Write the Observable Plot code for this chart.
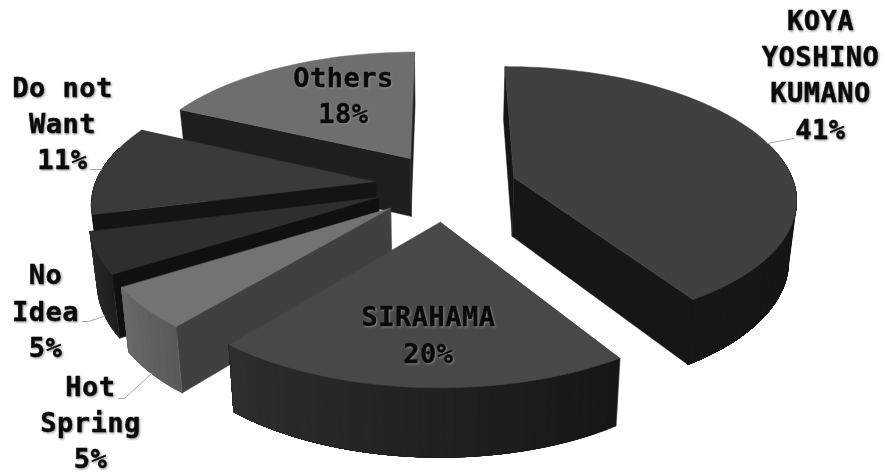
<!DOCTYPE html>
<html>
<head>
<meta charset="utf-8">
<script src="https://cdn.jsdelivr.net/npm/d3@7"></script>
<script src="https://cdn.jsdelivr.net/npm/@observablehq/plot@0.6"></script>
<style>
  html, body { margin: 0; padding: 0; background: #fff; }
  svg text { letter-spacing: 0.5px; }
</style>
</head>
<body>
<div id="chart"></div>
<script>
// Survey shares, clockwise from twelve o'clock
const names = ["KOYA\nYOSHINO\nKUMANO", "SIRAHAMA", "Hot\nSpring", "No\nIdea", "Do not\nWant", "Others"];
const shares = [41, 20, 5, 5, 11, 18];

// How far each slice is pulled out of the pie, in radii on the ground plane
const pullAcross = [0.253, -0.0103, -0.1846, -0.229, -0.244, -0.122];
const pullAway = [0.123, -0.214, -0.112, -0.03, 0.09, 0.276];

// Slice colours
const topColors = ["#404040", "#484848", "#737373", "#2e2e2e", "#3a3a3a", "#6e6e6e"];
const wallColors = ["#161616", "#404040", "#404040", "#101010", "#141414", "#1e1e1e"];
const rimFrom = ["#161616", "#161616", "#5a5a5a", "#1e1e1e", "#141414", "#1e1e1e"];
const rimTo = ["#161616", "#2e2e2e", "#6a6a6a", "#2c2c2c", "#141414", "#1e1e1e"];

// Painting order, far slices first
const paintOrder = [5, 0, 4, 3, 2, 1];

// Label placement
const labelX = [820, 428, 90, 45, 62, 343];
const labelY = [72, 332.5, 420, 308.5, 121, 93];
const leaderElbowX = [793, 428, 124, 88, 100, 343];
const leaderElbowY = [138, 336, 398, 321, 169, 96.5];
const leaderTipX = [null, null, 118, 82, 90, null];
const leaderOnBase = [false, null, true, true, false, null];

// Perspective camera
const horizon = -700, vanishX = 443, spread = 0.317;
const nearW = 1.12e-3, radiusW = 1.65e-4;
const arcStep = 2;

function topPoint(u, v) {
  const h = 1 / (nearW + radiusW * v);
  return {x: vanishX + spread * u * h, y: horizon + h};
}
function basePoint(p) {
  return {x: p.x + (vanishX - p.x) * 0.0225, y: p.y + 50 + 0.05 * p.y};
}

const toRad = Math.PI / 180;
let running = 0;
const slices = shares.map((s, i) => {
  const a0 = running * 3.6;
  running += s;
  const a1 = running * 3.6;
  return {i, a0, a1, mid: (a0 + a1) / 2};
});
const rimPoint = (sl, a) => topPoint(
  pullAcross[sl.i] + Math.sin(a * toRad),
  pullAway[sl.i] + Math.cos(a * toRad)
);

// Faces of every slice as closed outlines, ready for the line mark
const faces = [];
let faceId = 0;
function addFace(points, color) {
  const id = faceId++;
  for (const p of points) faces.push({id, x: p.x, y: p.y, color});
}
for (const k of paintOrder) {
  const sl = slices[k];
  const apex = topPoint(pullAcross[k], pullAway[k]);
  const apexBase = basePoint(apex);
  const angles = d3.range(sl.a0, sl.a1, arcStep).concat(sl.a1);
  const arc = angles.map(a => rimPoint(sl, a));
  const last = arc.length - 1;

  // Radial walls
  addFace([apex, arc[0], basePoint(arc[0]), apexBase], wallColors[k]);
  addFace([apex, arc[last], basePoint(arc[last]), apexBase], wallColors[k]);

  // Curved outer wall, front-facing part only; each band runs on to the
  // end of the wall so that no seams show between neighbours
  const shade = d3.interpolateRgb(rimFrom[k], rimTo[k]);
  const front = angles.filter(a => Math.cos(a * toRad) < 0.3).map(a => rimPoint(sl, a));
  for (let j = 0; j < front.length - 1; j++) {
    const upper = front.slice(j);
    const lower = upper.map(basePoint).reverse();
    addFace([...upper, ...lower], shade(j / (front.length - 1)));
  }

  // Top face
  addFace([apex, ...arc], topColors[k]);
}

// Leader lines run from the label to the middle of the slice's rim
const leaders = [];
slices.forEach((sl, i) => {
  if (leaderOnBase[i] === null) return;
  const rim = rimPoint(sl, sl.mid);
  const tip = leaderOnBase[i] ? basePoint(rim) : rim;
  if (leaderTipX[i] !== null) leaders.push({i, x: leaderTipX[i], y: leaderElbowY[i]});
  leaders.push({i, x: leaderElbowX[i], y: leaderElbowY[i]});
  leaders.push({i, x: tip.x, y: tip.y});
});

const labels = slices.map((sl, i) => ({
  text: `${names[i]}\n${shares[i]}%`,
  x: labelX[i],
  y: labelY[i]
}));

const chart = Plot.plot({
  width: 885,
  height: 475,
  margin: 0,
  x: {domain: [0, 885], range: [0, 885], axis: null},
  y: {domain: [0, 475], range: [0, 475], axis: null},
  color: {type: "identity"},
  style: {background: "#fff"},
  marks: [
    Plot.line(faces, {
      x: "x", y: "y", z: "id",
      fill: "color", stroke: "color", strokeWidth: 0.5,
      curve: "linear-closed"
    }),
    Plot.line(leaders, {x: "x", y: "y", z: "i", stroke: "#a8a8a8", strokeWidth: 1, curve: "linear"}),
    Plot.text(labels, {
      x: "x", y: "y", text: "text",
      fontFamily: "'DejaVu Sans Mono', monospace",
      fontWeight: "bold",
      fontSize: 27,
      lineHeight: 1.345,
      fill: "#0a0a0a",
      stroke: "#0a0a0a",
      strokeWidth: 0.4,
      imageFilter: "drop-shadow(1px 1px 1.2px #8a8a8a)"
    })
  ]
});
document.getElementById("chart").append(chart);
</script>
</body>
</html>
